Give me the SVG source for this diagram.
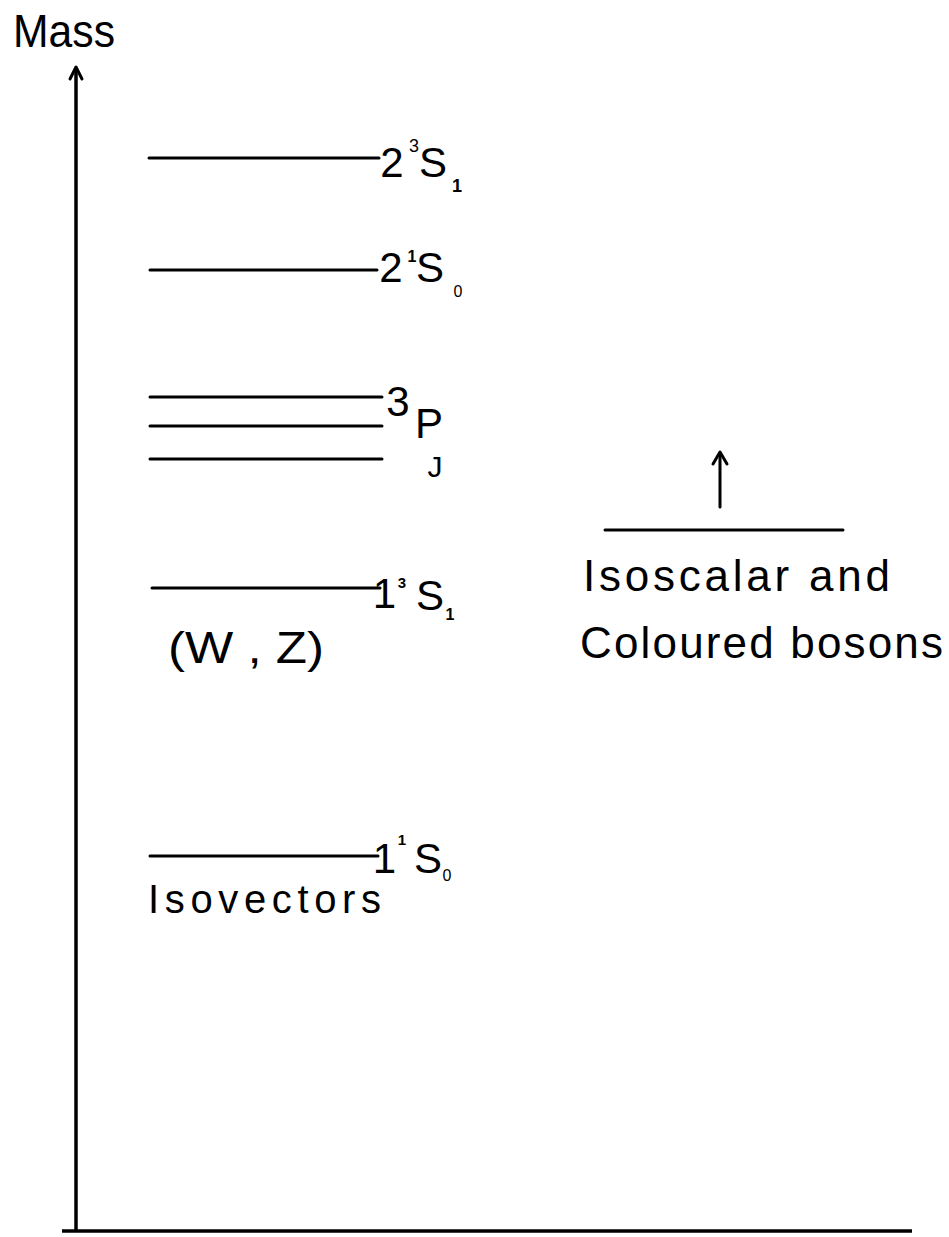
<svg xmlns="http://www.w3.org/2000/svg" width="949" height="1237" viewBox="0 0 949 1237">
<style>
.t{font-family:"Liberation Sans","DejaVu Sans",sans-serif;fill:#000;text-anchor:middle}
.te{font-family:"Liberation Sans","DejaVu Sans",sans-serif;fill:#000;text-anchor:end}
.tl{font-family:"Liberation Sans","DejaVu Sans",sans-serif;fill:#000}
.lv{stroke:#000;stroke-width:3;fill:none;stroke-linecap:round}
.ax{stroke:#000;stroke-width:3.5;fill:none;stroke-linecap:butt}
.ah{stroke:#000;stroke-width:3;fill:none;stroke-linecap:round;stroke-linejoin:round}
</style>
<rect width="949" height="1237" fill="#fff"/>
<g id="connectors">
  <line class="ax" x1="76" y1="1231" x2="76" y2="69"/>
  <polyline class="ah" points="70,79 76,67 82,79"/>
  <line class="ax" x1="62" y1="1231" x2="912" y2="1231"/>
  <line class="ah" x1="720" y1="507" x2="720" y2="454"/>
  <polyline class="ah" points="713,464 720,452 727,464"/>
</g>
<g id="axis-label">
  <text class="tl" x="13" y="47" font-size="46" textLength="102" lengthAdjust="spacingAndGlyphs">Mass</text>
</g>
<g id="level-2-3S1">
  <line class="lv" x1="149" y1="158" x2="379" y2="158"/>
  <text class="t" x="392" y="177" font-size="42">2</text>
  <text class="t" x="414" y="152" font-size="18">3</text>
  <text class="t" x="433" y="177" font-size="42">S</text>
  <text class="t" x="457" y="192" font-size="18" font-weight="bold">1</text>
</g>
<g id="level-2-1S0">
  <line class="lv" x1="150" y1="270" x2="377" y2="270"/>
  <text class="t" x="391" y="282" font-size="42">2</text>
  <text class="t" x="412" y="262" font-size="16" font-weight="bold">1</text>
  <text class="t" x="430" y="282" font-size="42">S</text>
  <text class="t" x="458" y="297" font-size="16">0</text>
</g>
<g id="level-3PJ">
  <line class="lv" x1="150" y1="397" x2="382" y2="397"/>
  <line class="lv" x1="150" y1="426" x2="382" y2="426"/>
  <line class="lv" x1="150" y1="459" x2="382" y2="459"/>
  <text class="t" x="398" y="416" font-size="42">3</text>
  <text class="t" x="429" y="438" font-size="42">P</text>
  <text class="t" x="435" y="477" font-size="30">J</text>
</g>
<g id="level-1-3S1">
  <line class="lv" x1="152" y1="588" x2="380" y2="588"/>
  <text class="te" x="396" y="608" font-size="42">1</text>
  <text class="t" x="402" y="588" font-size="15" font-weight="bold">3</text>
  <text class="t" x="430" y="610" font-size="42">S</text>
  <text class="t" x="450" y="620" font-size="16" font-weight="bold">1</text>
  <text class="tl" x="168" y="663" font-size="44" textLength="156" lengthAdjust="spacingAndGlyphs">(W , Z)</text>
</g>
<g id="isoscalar">
  <line class="lv" x1="605" y1="530" x2="843" y2="530"/>
  <text class="tl" x="583" y="591" font-size="44" textLength="307" lengthAdjust="spacing">Isoscalar and</text>
  <text class="tl" x="580" y="658" font-size="44" textLength="363" lengthAdjust="spacing">Coloured bosons</text>
</g>
<g id="level-1-1S0">
  <line class="lv" x1="150" y1="856" x2="378" y2="856"/>
  <text class="te" x="396" y="873" font-size="42">1</text>
  <text class="t" x="402" y="845" font-size="15" font-weight="bold">1</text>
  <text class="t" x="428" y="873" font-size="42">S</text>
  <text class="t" x="447" y="881" font-size="16">0</text>
  <text class="tl" x="148" y="913" font-size="40" textLength="233" lengthAdjust="spacing">Isovectors</text>
</g>
</svg>
